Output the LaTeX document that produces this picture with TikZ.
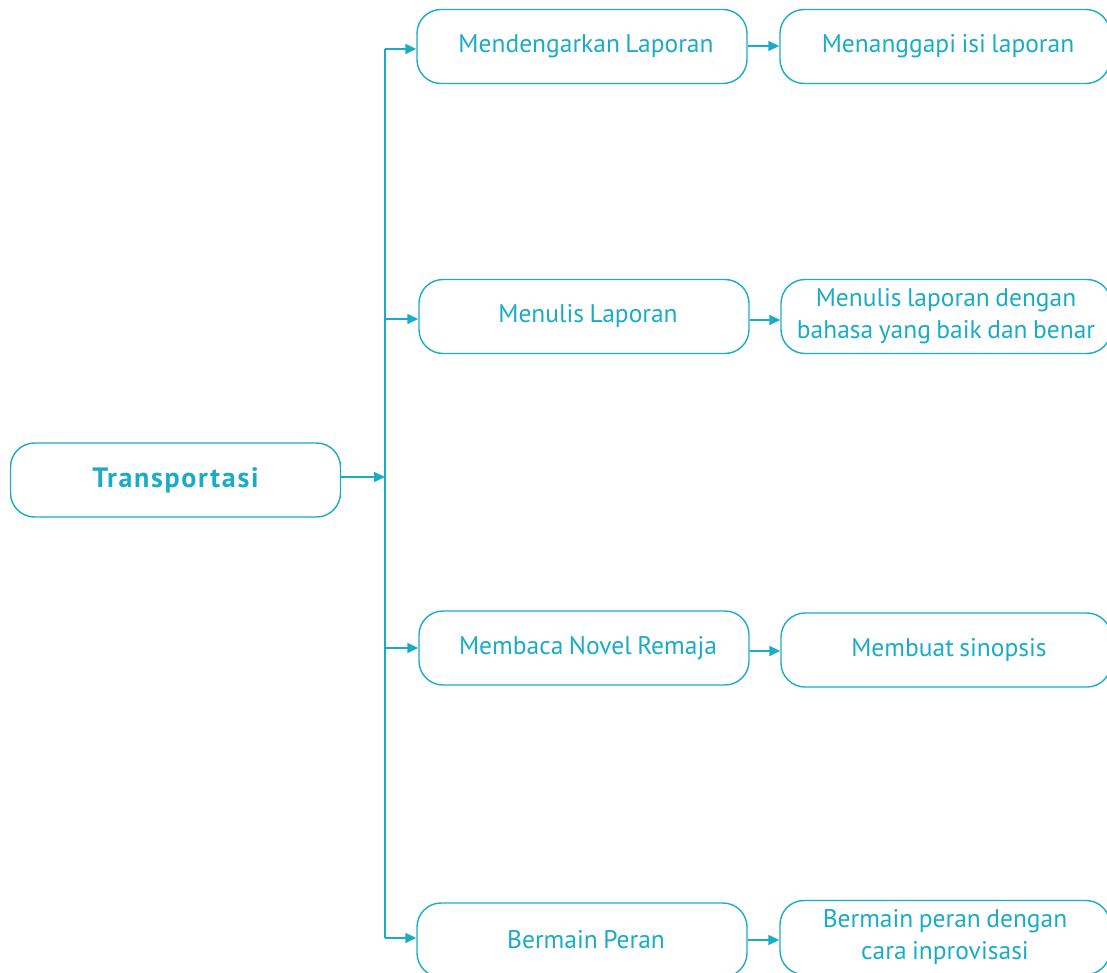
\documentclass[tikz,border=0pt]{standalone}
\usepackage{fontspec}
\setmainfont{PT Sans}[WordSpace=0.8]
\usetikzlibrary{arrows.meta}
\definecolor{teal}{RGB}{26,172,198}
\tikzset{
  box/.style={draw=teal, line width=1.4pt, rounded corners=24pt, minimum width=330pt, minimum height=74pt, text=teal, align=center, font=\fontsize{25.5}{32}\selectfont, inner sep=0pt},
  conn/.style={draw=teal, line width=1.5pt, -{Triangle[length=11pt,width=10pt]}},
  trunk/.style={draw=teal, line width=1.5pt}
}
\begin{document}
\begin{tikzpicture}[x=1pt,y=-1pt]
\useasboundingbox (0,0) rectangle (1107,973);
\clip (0,0) rectangle (1107,973);
\node[box] (root) at (175.5,480) {\fontsize{28}{32}\selectfont\bfseries\addfontfeature{LetterSpace=6}Transportasi};
\node[box] (a) at (582,46.5) {\hspace*{8pt}\raisebox{3pt}{Mendengarkan Laporan}};
\node[box] (b) at (584,316.5) {\hspace*{8pt}\raisebox{3pt}{Menulis Laporan}};
\node[box] (c) at (584,648) {\hspace*{8pt}\raisebox{3pt}{Membaca Novel Remaja}};
\node[box] (d) at (582,940) {\hspace*{8pt}Bermain Peran};
\node[box] (a2) at (945,46.5) {\hspace*{6pt}\raisebox{3pt}{Menanggapi isi laporan}};
\node[box] (b2) at (946,316.5) {Menulis laporan dengan\\bahasa yang baik dan benar};
\node[box] (c2) at (946,650) {\hspace*{6pt}\raisebox{3pt}{Membuat sinopsis}};
\node[box] (d2) at (945,937.5) {Bermain peran dengan\\cara inprovisasi};
\coordinate (t0) at (385,49);
\coordinate (t1) at (385,938);
\coordinate (tr) at (385,477);
\draw[trunk] (t0) -- (t1);
\draw[conn] (root.east |- tr) -- (tr);
\draw[conn] (t0) -- (a.west |- t0);
\draw[conn] (385,319) -- (b.west |- 0,319);
\draw[conn] (385,648) -- (c.west |- 0,648);
\draw[conn] (t1) -- (d.west |- t1);
\draw[conn] (a.east |- 0,46) -- (a2.west |- 0,46);
\draw[conn] (b.east |- 0,320) -- (b2.west |- 0,320);
\draw[conn] (c.east |- 0,651) -- (c2.west |- 0,651);
\draw[conn] (d.east |- 0,940) -- (d2.west |- 0,940);
\end{tikzpicture}
\end{document}
